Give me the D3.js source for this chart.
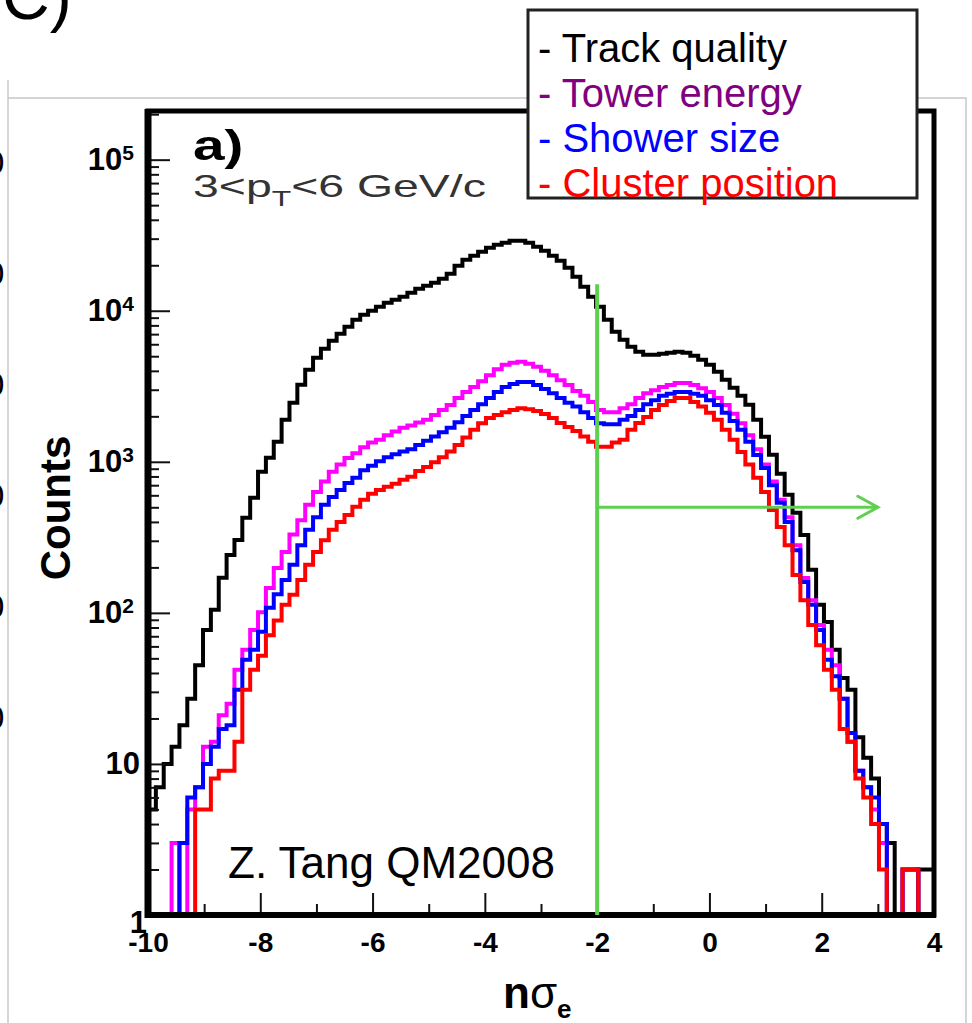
<!DOCTYPE html>
<html>
<head>
<meta charset="utf-8">
<script src="https://cdn.jsdelivr.net/npm/d3@7"></script>
<style>
  body { margin: 0; background: #fff; }
  svg { display: block; font-family: "Liberation Sans", Arial, Helvetica, sans-serif; }
</style>
</head>
<body>
<svg id="chart"></svg>
<script>
// histogram range (n sigma_e), 100 equal bins
const binLow = -10;
const binHigh = 4;

// counts per bin
const trackQuality = [
	5, 7, 10, 13, 18, 27, 45, 77, 105, 171,
	242, 304, 426, 578, 859, 1063, 1357, 1897, 2460, 3236,
	4065, 4886, 5600, 6327, 7046, 7835, 8713, 9412, 10000, 10620,
	11300, 11830, 12380, 13160, 13990, 14650, 15320, 16290, 17580, 19860,
	21770, 23130, 24590, 26140, 27360, 28200, 29100, 29100, 28200, 26540,
	24960, 23130, 21430, 19270, 16790, 14420, 12380, 10620, 8713, 7260,
	6427, 5775, 5350, 5115, 5115, 5195, 5270, 5350, 5270, 5035,
	4735, 4387, 3945, 3491, 3090, 2735, 2385, 1897, 1465, 1113,
	833, 605, 460, 328, 193, 113, 87, 57, 37, 31,
	15, 11, 8, 4, 3, 0, 0, 0, 2, 2
];
const towerEnergy = [
	0, 0, 0, 3, 0, 5, 7, 13, 14, 21,
	25, 42, 57, 77, 101, 146, 198, 253, 330, 410,
	520, 630, 740, 860, 960, 1060, 1140, 1250, 1340, 1400,
	1500, 1590, 1680, 1740, 1820, 1900, 2040, 2200, 2380, 2640,
	2900, 3130, 3410, 3740, 4100, 4390, 4520, 4600, 4460, 4260,
	4010, 3740, 3470, 3220, 2940, 2740, 2490, 2200, 2130, 2130,
	2260, 2400, 2640, 2840, 2980, 3130, 3220, 3320, 3320, 3220,
	3070, 2900, 2640, 2380, 2080, 1800, 1500, 1210, 960, 740,
	560, 430, 280, 170, 121, 83, 57, 45, 27, 14,
	9, 7, 5, 3, 0, 0, 2, 2, 0, 0
];
const showerSize = [
	0, 0, 0, 0, 3, 6, 7, 10, 13, 17,
	18, 31, 49, 57, 75, 108, 133, 165, 208, 280,
	355, 430, 520, 585, 650, 725, 785, 880, 940, 1010,
	1070, 1120, 1170, 1210, 1290, 1380, 1470, 1570, 1680, 1830,
	2010, 2200, 2400, 2640, 2900, 3130, 3270, 3370, 3370, 3220,
	3030, 2840, 2640, 2460, 2320, 2130, 1950, 1800, 1770, 1770,
	1900, 2010, 2200, 2400, 2560, 2740, 2820, 2900, 2900, 2820,
	2740, 2560, 2380, 2110, 1860, 1630, 1360, 1110, 910, 700,
	535, 400, 260, 160, 113, 77, 49, 38, 27, 16,
	9, 7, 6, 4, 0, 0, 2, 2, 0, 0
];
const clusterPosition = [
	0, 0, 0, 0, 0, 0, 5, 5, 8, 9,
	9, 14, 31, 42, 52, 71, 89, 113, 132, 165,
	208, 253, 303, 355, 400, 445, 505, 560, 615, 650,
	685, 715, 760, 795, 870, 925, 995, 1070, 1170, 1290,
	1450, 1630, 1800, 1950, 2040, 2130, 2200, 2260, 2230, 2170,
	2070, 1950, 1810, 1700, 1600, 1470, 1360, 1260, 1260, 1340,
	1400, 1630, 1810, 1980, 2200, 2380, 2530, 2640, 2640, 2490,
	2320, 2110, 1900, 1630, 1400, 1160, 960, 785, 630, 480,
	370, 280, 178, 121, 83, 61, 42, 31, 17, 14,
	8, 6, 4, 2, 0, 0, 2, 2, 0, 0
];

const seriesNames = ["Track quality", "Tower energy", "Shower size", "Cluster position"];
const lineColors = ["#000000", "#ff00ff", "#0000ff", "#ff0000"];
const legendColors = ["#000000", "#800080", "#0000ff", "#ff0000"];

const xMajorTicks = [-10, -8, -6, -4, -2, 0, 2, 4];
const xMinorTicks = [-9, -7, -5, -3, -1, 1, 3];
const yMajorTicks = [1, 10, 100, 1000, 10000, 100000];
const yMax = 2.1e5;

// cut marker
const cutValue = -2;
const cutTopCount = 15000;
const arrowCount = 500;
const arrowEnd = 3.0;

const width = 972;
const height = 1023;
const font = '"Liberation Sans", Arial, Helvetica, sans-serif';

const svg = d3.select('#chart')
	.attr('width', width)
	.attr('height', height);

// bits of the neighbouring panel that show at the edges
svg.append('text')
	.attr('x', 2).attr('y', 19)
	.attr('font-size', 66)
	.text('C)');

[174, 285, 396, 507, 618, 729].forEach(b => {
	svg.append('text')
		.attr('x', -5).attr('y', b)
		.attr('text-anchor', 'middle')
		.attr('font-size', 34)
		.text('0');
});

const grey = svg.append('g')
	.attr('stroke', '#c8c8c8')
	.attr('stroke-width', 1.5)
	.attr('fill', 'none');
grey.append('path').attr('d', 'M8,80V1023');
grey.append('path').attr('d', 'M8,98H966V1023');

const x = d3.scaleLinear().domain([binLow, binHigh]).range([148, 934]);
const y = d3.scaleLog().domain([1, yMax]).range([915, 111]);

// histograms
const nBins = trackQuality.length;
const binWidth = (binHigh - binLow) / nBins;
const series = [trackQuality, towerEnergy, showerSize, clusterPosition];

const line = d3.line()
	.x(d => x(d[0]))
	.y(d => d[1] > 0 ? y(d[1]) : y(1))
	.curve(d3.curveStepAfter);

series.forEach((values, k) => {
	const pts = values.map((v, i) => [binLow + i * binWidth, v]);
	pts.push([binHigh, values[nBins - 1]]);
	svg.append('path')
		.attr('d', line(pts))
		.attr('fill', 'none')
		.attr('stroke', lineColors[k])
		.attr('stroke-width', 4);
});

// axes, ROOT style ticks pointing inwards
const xMajor = svg.append('g')
	.attr('transform', `translate(0,${y(1)})`)
	.call(d3.axisBottom(x).tickValues(xMajorTicks).tickSize(-22).tickPadding(17)
		.tickFormat(d => String(d)));
const xMinor = svg.append('g')
	.attr('transform', `translate(0,${y(1)})`)
	.call(d3.axisBottom(x).tickValues(xMinorTicks).tickSize(-11).tickFormat(''));

const yMinorTicks = [];
yMajorTicks.forEach(d => {
	for (let m = 2; m <= 9; m++) {
		if (d * m <= yMax) yMinorTicks.push(d * m);
	}
});

const yMajor = svg.append('g')
	.attr('transform', `translate(${x(binLow)},0)`)
	.call(d3.axisLeft(y).tickValues(yMajorTicks).tickSize(-22).tickPadding(14).tickFormat(''));
const yMinor = svg.append('g')
	.attr('transform', `translate(${x(binLow)},0)`)
	.call(d3.axisLeft(y).tickValues(yMinorTicks).tickSize(-11).tickFormat(''));

[xMajor, xMinor, yMajor, yMinor].forEach(g => {
	g.select('.domain').remove();
	g.attr('font-family', font);
	g.selectAll('.tick line').attr('stroke', '#111').attr('stroke-width', 2);
});

xMajor.selectAll('.tick text')
	.attr('font-size', 28)
	.attr('font-weight', 'bold')
	.attr('fill', '#000');

yMajor.selectAll('.tick text')
	.attr('font-size', 31)
	.attr('font-weight', 'bold')
	.attr('fill', '#000')
	.each(function(d) {
		const t = d3.select(this);
		const p = Math.round(Math.log10(d));
		if (p === 0) {
			t.attr('x', -1).attr('dy', '0.55em').text('1');
		} else if (p === 1) {
			t.attr('x', -8).text('10');
		} else {
			t.append('tspan').text('10');
			t.append('tspan')
				.attr('dy', '-0.5em')
				.attr('font-size', 21)
				.text(p);
		}
	});

// frame
svg.append('rect')
	.attr('x', x(binLow)).attr('y', y(yMax))
	.attr('width', x(binHigh) - x(binLow))
	.attr('height', y(1) - y(yMax))
	.attr('fill', 'none')
	.attr('stroke', '#000')
	.attr('stroke-width', 5);
svg.append('line')
	.attr('x1', x(binLow)).attr('x2', x(binLow))
	.attr('y1', y(yMax) - 2).attr('y2', y(1) + 3)
	.attr('stroke', '#000').attr('stroke-width', 7);
svg.append('line')
	.attr('x1', x(binLow) - 3).attr('x2', x(binHigh) + 2)
	.attr('y1', y(1)).attr('y2', y(1))
	.attr('stroke', '#000').attr('stroke-width', 6);

// axis titles
svg.append('text')
	.attr('transform', 'translate(70,508) rotate(-90)')
	.attr('text-anchor', 'middle')
	.attr('font-size', 42)
	.attr('font-weight', 'bold')
	.text('Counts');

const xt = svg.append('text')
	.attr('x', 503).attr('y', 1008)
	.attr('font-size', 44);
xt.append('tspan').attr('font-weight', 'bold').text('n');
xt.append('tspan').text('σ');
xt.append('tspan').attr('dy', 10).attr('font-size', 26).attr('font-weight', 'bold').text('e');

// panel labels
svg.append('text')
	.attr('transform', 'translate(193,160) scale(1.35,1)')
	.attr('font-size', 42)
	.attr('font-weight', 'bold')
	.text('a)');

const pt = svg.append('text')
	.attr('transform', 'translate(193,197) scale(1.45,1)')
	.attr('font-size', 32)
	.attr('fill', '#333');
pt.append('tspan').text('3<p');
pt.append('tspan').attr('dy', 9).attr('font-size', 22).text('T');
pt.append('tspan').attr('dy', -9).text('<6 GeV/c');

svg.append('text')
	.attr('x', 228).attr('y', 878)
	.attr('font-size', 44)
	.text('Z. Tang QM2008');

// cut line and arrow
const green = svg.append('g')
	.attr('stroke', '#5fcf50')
	.attr('fill', 'none');
green.append('line')
	.attr('x1', x(cutValue)).attr('x2', x(cutValue))
	.attr('y1', y(cutTopCount)).attr('y2', y(1))
	.attr('stroke-width', 4);
green.append('line')
	.attr('x1', x(cutValue)).attr('x2', x(arrowEnd))
	.attr('y1', y(arrowCount)).attr('y2', y(arrowCount))
	.attr('stroke-width', 3);
green.append('polyline')
	.attr('points', [
		[x(arrowEnd) - 20, y(arrowCount) - 11],
		[x(arrowEnd), y(arrowCount)],
		[x(arrowEnd) - 20, y(arrowCount) + 11]
	].map(p => p.join(',')).join(' '))
	.attr('stroke-width', 3)
	.attr('stroke-linecap', 'round');

// legend
svg.append('rect')
	.attr('x', 528).attr('y', 10)
	.attr('width', 389).attr('height', 188)
	.attr('fill', '#fff')
	.attr('stroke', '#222')
	.attr('stroke-width', 3);

seriesNames.forEach((name, k) => {
	svg.append('text')
		.attr('x', 538)
		.attr('y', 62 + k * 45)
		.attr('font-size', 40)
		.attr('fill', legendColors[k])
		.text('- ' + name);
});
</script>
</body>
</html>
